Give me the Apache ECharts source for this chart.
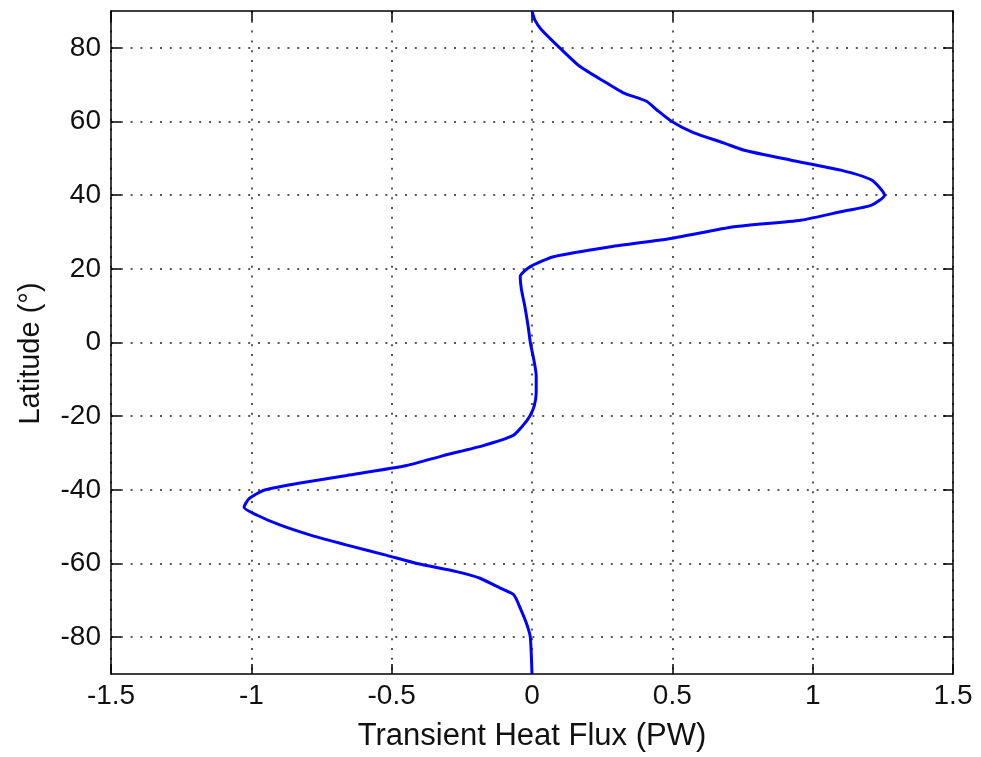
<!DOCTYPE html>
<html>
<head>
<meta charset="utf-8">
<title>Transient Heat Flux</title>
<script src="https://cdn.jsdelivr.net/npm/echarts@6/dist/echarts.min.js"></script>
<style>
    html, body { margin: 0; padding: 0; background: #fff; }
    #chart { width: 981px; height: 757px; }
</style>
</head>
<body>
<div id="chart"></div>
<script>
// latitude (deg), north to south
var latitude = [90, 87.6, 85, 80, 75, 70.5, 67.8, 65.5, 63.2, 60, 57, 54.2, 52.2, 49.5, 46.8, 44.1, 40,
    37.3, 35.5, 33.2, 31.4, 28.3, 26, 23.3, 20.6, 17.9, 14.5, 10, 4.5, 0, -4.5, -9, -13.5, -17.2, -20,
    -22.5, -25.2, -28, -30.7, -33.4, -36.1, -38.3, -40.1, -42.4, -44.7, -46.9, -49.6, -52.3, -55, -57.8,
    -60, -62.2, -64, -66.7, -68.5, -72.1, -76.6, -80, -90];

// transient heat flux (PW) at each latitude
var heatFlux = [0, 0.01, 0.033, 0.099, 0.17, 0.265, 0.325, 0.408, 0.444, 0.498, 0.575, 0.682, 0.756, 0.923, 1.10, 1.21, 1.256,
    1.21, 1.10, 0.958, 0.72, 0.5, 0.28, 0.077, -0.006, -0.042, -0.038, -0.026, -0.014, -0.006, 0.006, 0.015, 0.015, 0.008, -0.008,
    -0.032, -0.067, -0.174, -0.316, -0.446, -0.66, -0.837, -0.955, -1.008, -1.026, -0.979, -0.896, -0.789, -0.659, -0.517,
    -0.41, -0.269, -0.185, -0.113, -0.065, -0.042, -0.018, -0.006, 0];

var latTicks = [-80, -60, -40, -20, 0, 20, 40, 60, 80];

var font = 'Liberation Sans, Arial, Helvetica, sans-serif';

var dotted = {
    show: true,
    lineStyle: { color: '#222', width: 1.5, type: [2, 7.8] }
};

var pairs = heatFlux.map(function (v, i) {
    return [v, latitude[i]];
});

var myChart = echarts.init(document.getElementById('chart'));

var option = {
    backgroundColor: '#fff',
    animation: false,
    grid: { left: 111, right: 28, top: 11, bottom: 82 },
    xAxis: [
        {
            type: 'value',
            position: 'bottom',
            min: -1.5,
            max: 1.5,
            interval: 0.5,
            name: 'Transient Heat Flux (PW)',
            nameLocation: 'middle',
            nameGap: 47,
            nameTextStyle: { fontFamily: font, fontSize: 31, color: '#111' },
            axisLine: { show: true, onZero: false, lineStyle: { color: '#000', width: 1.5 } },
            axisTick: { show: true, inside: true, length: 10, lineStyle: { color: '#000', width: 1.5 } },
            axisLabel: { fontFamily: font, fontSize: 28, color: '#111', margin: 8 },
            splitLine: dotted
        },
        {
            type: 'value',
            position: 'top',
            min: -1.5,
            max: 1.5,
            interval: 0.5,
            axisLine: { show: true, onZero: false, lineStyle: { color: '#000', width: 1.5 } },
            axisTick: { show: true, inside: true, length: 10, lineStyle: { color: '#000', width: 1.5 } },
            axisLabel: { show: false },
            splitLine: { show: false }
        }
    ],
    yAxis: [
        {
            type: 'value',
            position: 'left',
            min: -90,
            max: 90,
            name: 'Latitude (°)',
            nameLocation: 'middle',
            nameGap: 66,
            nameTextStyle: { fontFamily: font, fontSize: 29, color: '#111', padding: [0, 22, 0, 0] },
            axisLine: { show: true, onZero: false, lineStyle: { color: '#000', width: 1.5 } },
            axisTick: { show: true, inside: true, length: 10, customValues: latTicks, lineStyle: { color: '#000', width: 1.5 } },
            axisLabel: { fontFamily: font, fontSize: 28, color: '#111', margin: 10, customValues: latTicks },
            splitLine: dotted
        },
        {
            type: 'value',
            position: 'right',
            min: -90,
            max: 90,
            axisLine: { show: true, onZero: false, lineStyle: { color: '#000', width: 1.5 } },
            axisTick: { show: true, inside: true, length: 10, customValues: latTicks, lineStyle: { color: '#000', width: 1.5 } },
            axisLabel: { show: false },
            splitLine: { show: false }
        }
    ],
    series: [
        {
            type: 'line',
            xAxisIndex: 0,
            yAxisIndex: 0,
            data: pairs,
            showSymbol: false,
            symbol: 'none',
            smooth: 0.2,
            lineStyle: { color: '#0000ff', width: 3 }
        }
    ]
};

myChart.setOption(option);
</script>
</body>
</html>
